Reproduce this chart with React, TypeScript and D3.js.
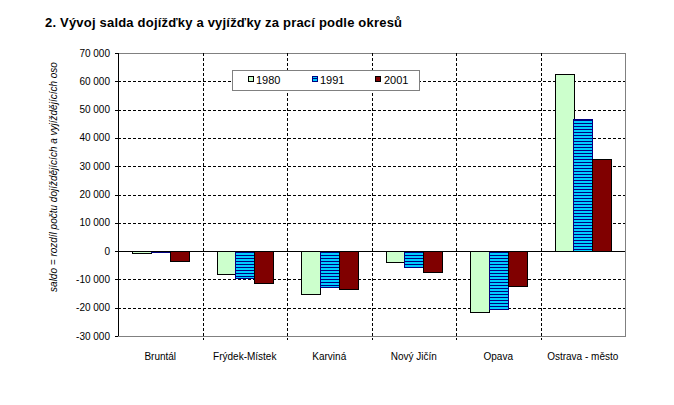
import React from "react";
import * as d3 from "d3";

const categories = ["Bruntál", "Frýdek-Místek", "Karviná", "Nový Jičín", "Opava", "Ostrava - město"];
const seriesNames = ["1980", "1991", "2001"];
const values1980 = [-800, -8200, -15200, -4000, -21700, 62600];
const values1991 = [-300, -9600, -12800, -5500, -20600, 46600];
const values2001 = [-3700, -11400, -13500, -7500, -12200, 32600];
const yTicks = [-30000, -20000, -10000, 0, 10000, 20000, 30000, 40000, 50000, 60000, 70000];

const W = 674;
const H = 405;
const left = 118;
const right = 625;
const top = 53;
const bottom = 336;

const fmt = (v: number) => {
  const s = d3.format(",")(Math.abs(v)).replace(/,/g, " ");
  return (v < 0 ? "-" : "") + s;
};

export default function App() {
  const series = [values1980, values1991, values2001];
  const x0 = d3.scaleBand<string>().domain(categories).range([left, right]).padding(0);
  const y = d3.scaleLinear().domain([-30000, 70000]).range([bottom, top]);
  const bw = x0.bandwidth();
  const barW = bw / 4.5;
  const x1 = d3
    .scaleBand<string>()
    .domain(seriesNames)
    .range([barW * 0.75, bw - barW * 0.75])
    .padding(0);

  const fills = ["#CCFFCC", "url(#stripes)", "#800000"];
  const strokes = ["#000000", "#000080", "#000000"];
  const font = "Arial, 'Liberation Sans', sans-serif";
  const dash = "3,2";

  const legendX = 232;
  const legendY = 70;
  const legendItems = [
    { sx: 248, tx: 256 },
    { sx: 312, tx: 320 },
    { sx: 375, tx: 384 },
  ];

  return (
    <svg
      width={W}
      height={H}
      style={{ position: "absolute", left: 0, top: 0, background: "#fff" }}
      fontFamily={font}
    >
      <defs>
        <pattern id="stripes" patternUnits="userSpaceOnUse" width={4} height={3}>
          <rect x={0} y={0} width={4} height={3} fill="#00CCFF" />
          <rect x={0} y={0} width={4} height={1} fill="#000080" />
        </pattern>
      </defs>
      <rect x={0} y={0} width={W} height={H} fill="#fff" />
      <text x={45} y={27} fontSize={13} fontWeight="bold" letterSpacing={0.2} fill="#000">
        2. Vývoj salda dojížďky a vyjížďky za prací podle okresů
      </text>

      {/* plot border */}
      <rect x={left} y={top} width={right - left} height={bottom - top} fill="#fff" stroke="#808080" strokeWidth={1} shapeRendering="crispEdges" />

      {/* horizontal gridlines */}
      {yTicks
        .filter((t) => t !== 70000 && t !== -30000 && t !== 0)
        .map((t) => (
          <line
            key={"h" + t}
            x1={left}
            x2={right}
            y1={Math.round(y(t)) + 0.5}
            y2={Math.round(y(t)) + 0.5}
            stroke="#000"
            strokeDasharray={dash}
          />
        ))}

      {/* vertical gridlines */}
      {categories.slice(1).map((c) => (
        <line
          key={"v" + c}
          x1={Math.round(x0(c)!) + 0.5}
          x2={Math.round(x0(c)!) + 0.5}
          y1={top}
          y2={bottom + 4}
          stroke="#000"
          strokeDasharray={dash}
        />
      ))}

      {/* bars */}
      {categories.map((c, i) =>
        series.map((vals, s) => {
          const v = vals[i];
          const bx = x0(c)! + x1(seriesNames[s])!;
          const y0 = y(0);
          const yv = y(v);
          return (
            <rect
              key={c + s}
              x={Math.round(bx) + 0.5}
              y={Math.round(Math.min(y0, yv)) + 0.5}
              width={Math.round(barW)}
              height={Math.max(1, Math.round(Math.abs(yv - y0)))}
              fill={fills[s]}
              stroke={strokes[s]}
              strokeWidth={1}
            />
          );
        })
      )}

      {/* zero line */}
      <line x1={left} x2={right} y1={Math.round(y(0)) + 0.5} y2={Math.round(y(0)) + 0.5} stroke="#000" />

      {/* y axis */}
      <line x1={left + 0.5} x2={left + 0.5} y1={top} y2={bottom} stroke="#000" />
      {yTicks.map((t) => (
        <g key={"t" + t}>
          <line x1={left - 3} x2={left} y1={Math.round(y(t)) + 0.5} y2={Math.round(y(t)) + 0.5} stroke="#000" />
          <text x={110} y={y(t) + 3.5} fontSize={10} textAnchor="end" fill="#000">
            {fmt(t)}
          </text>
        </g>
      ))}

      {/* x labels */}
      {categories.map((c) => (
        <text key={"xl" + c} x={x0(c)! + bw / 2} y={360} fontSize={10} textAnchor="middle" fill="#000">
          {c}
        </text>
      ))}

      {/* y axis title */}
      <text
        transform={`translate(57, 177) rotate(-90)`}
        fontSize={10}
        fontStyle="italic"
        textAnchor="middle"
        fill="#000"
      >
        saldo = rozdíl počtu dojíždějících a vyjíždějících oso
      </text>

      {/* legend */}
      <rect x={legendX + 0.5} y={legendY + 0.5} width={187} height={20} fill="#fff" stroke="#808080" />
      {seriesNames.map((n, s) => (
        <g key={"lg" + n}>
          <rect
            x={legendItems[s].sx + 0.5}
            y={76.5}
            width={5}
            height={5}
            fill={fills[s]}
            stroke={strokes[s]}
          />
          <text x={legendItems[s].tx} y={84} fontSize={11} fill="#000">
            {n}
          </text>
        </g>
      ))}
    </svg>
  );
}
